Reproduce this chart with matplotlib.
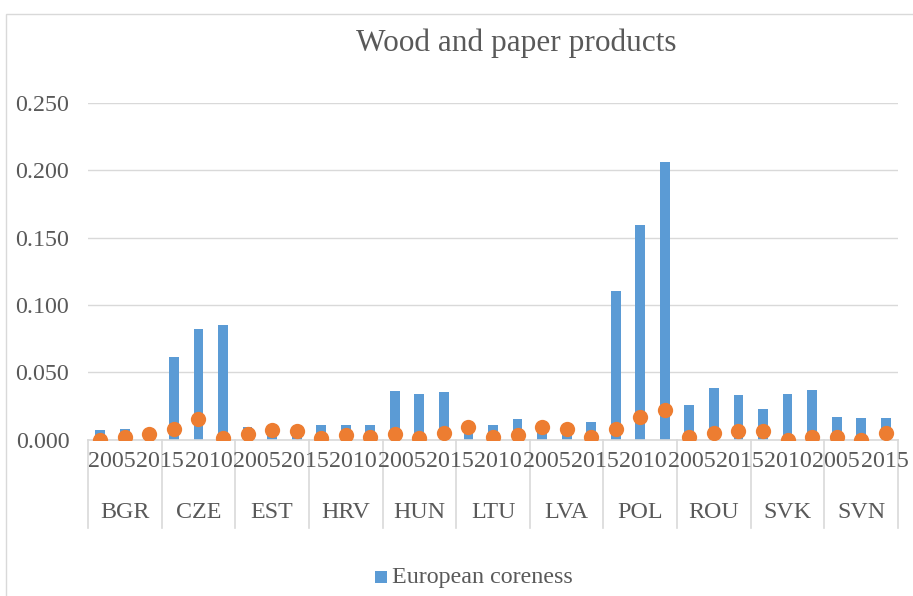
import matplotlib
matplotlib.use("Agg")
import matplotlib.pyplot as plt
import matplotlib.patches as mpatches
from matplotlib.transforms import blended_transform_factory
import numpy as np

countries = ["BGR", "CZE", "EST", "HRV", "HUN", "LTU", "LVA", "POL", "ROU", "SVK", "SVN"]
years = ["2005", "2010", "2015"]

# European coreness (bars), one row per country, columns = years
coreness = [
    [0.007, 0.008, 0.005],
    [0.061, 0.082, 0.085],
    [0.009, 0.008, 0.006],
    [0.011, 0.011, 0.011],
    [0.036, 0.034, 0.035],
    [0.008, 0.011, 0.015],
    [0.008, 0.007, 0.013],
    [0.110, 0.159, 0.206],
    [0.026, 0.038, 0.033],
    [0.023, 0.034, 0.037],
    [0.017, 0.016, 0.016],
]

# second series shown as round markers
orange_series = [
    [0.000, 0.002, 0.004],
    [0.008, 0.015, 0.001],
    [0.004, 0.007, 0.006],
    [0.001, 0.003, 0.002],
    [0.004, 0.001, 0.005],
    [0.0095, 0.002, 0.003],
    [0.0095, 0.008, 0.002],
    [0.008, 0.017, 0.022],
    [0.002, 0.005, 0.006],
    [0.006, 0.000, 0.002],
    [0.002, 0.000, 0.005],
]

y_ticks = [0.0, 0.05, 0.10, 0.15, 0.20, 0.25]

plt.rcParams["font.family"] = ["Liberation Serif", "DejaVu Serif"]

W, H = 913, 596
fig = plt.figure(figsize=(W / 100, H / 100), dpi=100)

BLUE = "#5B9BD5"
ORANGE = "#ED7D31"
GRID = "#D9D9D9"
TEXT = "#595959"
FS = 17.3

# chart border
fig.patches.append(mpatches.Rectangle((6 / W, 0 - 0.01), 1.0, 1 - 14 / H + 0.01,
                                      transform=fig.transFigure, fill=False,
                                      edgecolor=GRID, linewidth=1.0))

left, right = 88 / W, 898 / W
bottom, top = 1 - 439.5 / H, 1 - 103 / H
ax = fig.add_axes([left, bottom, right - left, top - bottom])

n_years = len(years)
bar_vals = np.array(coreness).ravel()
dot_vals = np.array(orange_series).ravel()
xs = np.arange(len(bar_vals))

ax.bar(xs, bar_vals, width=0.4, color=BLUE, zorder=2, label="European coreness")
ax.plot(xs, dot_vals, linestyle="none", marker="o", markersize=11,
        color=ORANGE, markeredgewidth=0, zorder=3)

ax.set_xlim(-0.5, len(xs) - 0.5)
ax.set_ylim(0, 0.25)
ax.set_yticks(y_ticks)
ax.set_yticklabels([f"{t:.3f}" for t in y_ticks])
ax.tick_params(axis="y", length=0, pad=13.5, labelsize=FS, labelcolor=TEXT)
ax.yaxis.grid(True, color=GRID, linewidth=1.0, zorder=0)
ax.set_axisbelow(True)
ax.set_xticks([])

for s in ["top", "right", "left"]:
    ax.spines[s].set_visible(False)
ax.spines["bottom"].set_color(GRID)
ax.spines["bottom"].set_linewidth(1.2)

ax_w_px = (right - left) * W
ax_h_px = (top - bottom) * H
trans_ax = ax.transAxes
trans = blended_transform_factory(ax.transData, ax.transAxes)

# year labels: every other slot, packed side by side from the left edge
year_labels = [years[i % n_years] for i in range(0, len(xs), 2)]
step = (909 - 88) / len(year_labels)
for k, lab in enumerate(year_labels):
    ax.text(k * step / ax_w_px, -22 / ax_h_px, lab, transform=trans_ax,
            ha="left", va="center", fontsize=FS, color=TEXT, clip_on=False)

# category separators and country labels
sep_len = 88 / ax_h_px
for c in range(len(countries) + 1):
    xb = c * n_years - 0.5
    ax.plot([xb, xb], [0, -sep_len], transform=trans, color=GRID,
            linewidth=1.2, clip_on=False, zorder=1)
for c, name in enumerate(countries):
    ax.text(c * n_years + 1, -73 / ax_h_px, name, transform=trans,
            ha="center", va="center", fontsize=FS, color=TEXT)

fig.text(516 / W, 1 - 51 / H, "Wood and paper products", ha="center",
         va="baseline", fontsize=22.5, color=TEXT)

# legend
fig.patches.append(mpatches.Rectangle((375 / W, 1 - 583 / H), 12 / W, 12 / H,
                                      transform=fig.transFigure,
                                      facecolor=BLUE, edgecolor="none"))
fig.text(392 / W, 1 - 577 / H, "European coreness", ha="left", va="center",
         fontsize=FS, color=TEXT)

fig.savefig("out.png", dpi=100)
